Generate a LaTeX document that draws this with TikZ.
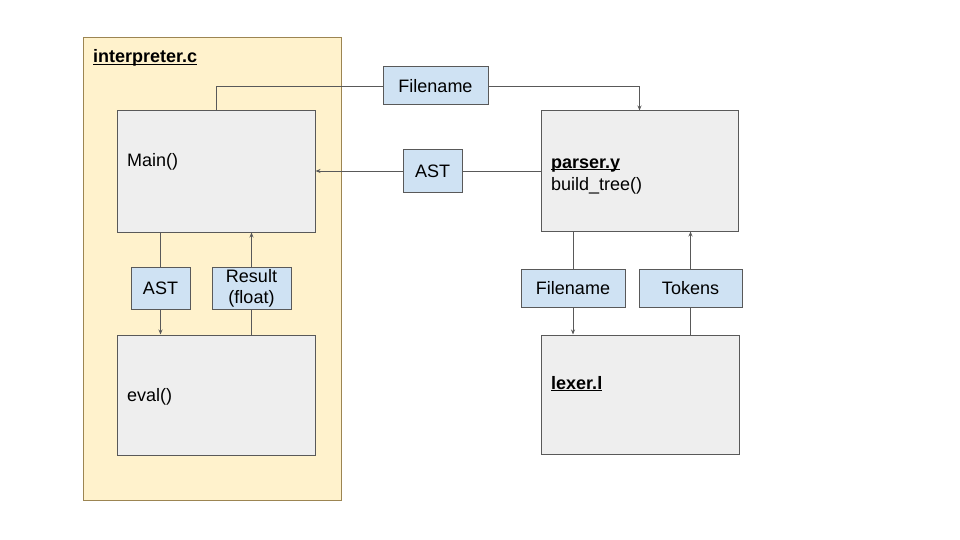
\documentclass[tikz,border=0pt]{standalone}
\usepackage{fontspec}
\setmainfont{Liberation Sans}
\usetikzlibrary{arrows.meta}
\definecolor{contfill}{HTML}{FFF2CC}
\definecolor{contdraw}{HTML}{9C8552}
\definecolor{boxfill}{HTML}{EEEEEE}
\definecolor{bluefill}{HTML}{CFE2F3}
\definecolor{linegray}{HTML}{595959}
\newcommand{\myul}[1]{\setbox0\hbox{#1}\rlap{\rule[-2.2pt]{\wd0}{1.3pt}}\box0}
\tikzset{
  container/.style={draw=contdraw, fill=contfill, line width=0.8pt, inner sep=0pt},
  graybox/.style={draw=linegray, fill=boxfill, line width=1pt, inner sep=0pt},
  bluebox/.style={draw=linegray, fill=bluefill, line width=1pt, inner sep=0pt, align=center,
    font=\fontsize{18}{21}\selectfont},
  txt/.style={anchor=base west, inner sep=0pt, font=\fontsize{18}{21}\selectfont},
  conn/.style={draw=linegray, line width=0.8pt},
  arr/.style={conn, -{Stealth[length=5pt,width=4pt]}},
}
\begin{document}
\begin{tikzpicture}[x=1pt,y=-1pt]
\useasboundingbox (0,0) rectangle (960,540);
\fill[white] (0,0) rectangle (960,540);
% container
\node[container, minimum width=258pt, minimum height=463pt] (interp) at (212,268.5) {};
\node[txt] (interpl) at (93,63) {\myul{\textbf{interpreter.c}}};
% gray boxes
\node[graybox, minimum width=198pt, minimum height=121pt] (main) at (216,171.5) {};
\node[txt] (mainl) at (127,167) {Main()};
\node[graybox, minimum width=198pt, minimum height=120pt] (eval) at (216,395) {};
\node[txt] (evall) at (127,401) {eval()};
\node[graybox, minimum width=197pt, minimum height=120pt] (parser) at (639.5,171) {};
\node[txt] (parserl) at (551,168) {\myul{\textbf{parser.y}}};
\node[txt] (parserl2) at (551,190) {build\_tree()};
\node[graybox, minimum width=198pt, minimum height=119pt] (lexer) at (640,394.5) {};
\node[txt] (lexerl) at (551,389) {\myul{\textbf{lexer.l}}};
% blue boxes
\node[bluebox, minimum width=59pt, minimum height=42pt] (ast1) at (160.5,288) {AST};
\node[bluebox, minimum width=79pt, minimum height=42pt] (res) at (251.5,288) {Result\\(float)};
\node[bluebox, minimum width=105pt, minimum height=38pt] (fn1) at (435.5,86) {Filename};
\node[bluebox, minimum width=59pt, minimum height=42pt] (ast2) at (432.5,171) {AST};
\node[bluebox, minimum width=104pt, minimum height=38pt] (fn2) at (573,288) {Filename};
\node[bluebox, minimum width=103pt, minimum height=38pt] (tok) at (690.5,288) {Tokens};
% connectors
\draw[conn] (main.north) |- (fn1.west);
\draw[arr] (fn1.east) -| (parser.north);
\draw[conn] (parser.west) -- (ast2.east);
\draw[arr] (ast2.west) -- (main.east |- ast2.west);
\draw[conn] (main.south -| ast1) -- (ast1.north);
\draw[arr] (ast1.south) -- (eval.north -| ast1);
\draw[conn] (eval.north -| res) -- (res.south);
\draw[arr] (res.north) -- (main.south -| res);
\draw[conn] (parser.south -| fn2) -- (fn2.north);
\draw[arr] (fn2.south) -- (lexer.north -| fn2);
\draw[conn] (lexer.north -| tok) -- (tok.south);
\draw[arr] (tok.north) -- (parser.south -| tok);
\end{tikzpicture}
\end{document}
